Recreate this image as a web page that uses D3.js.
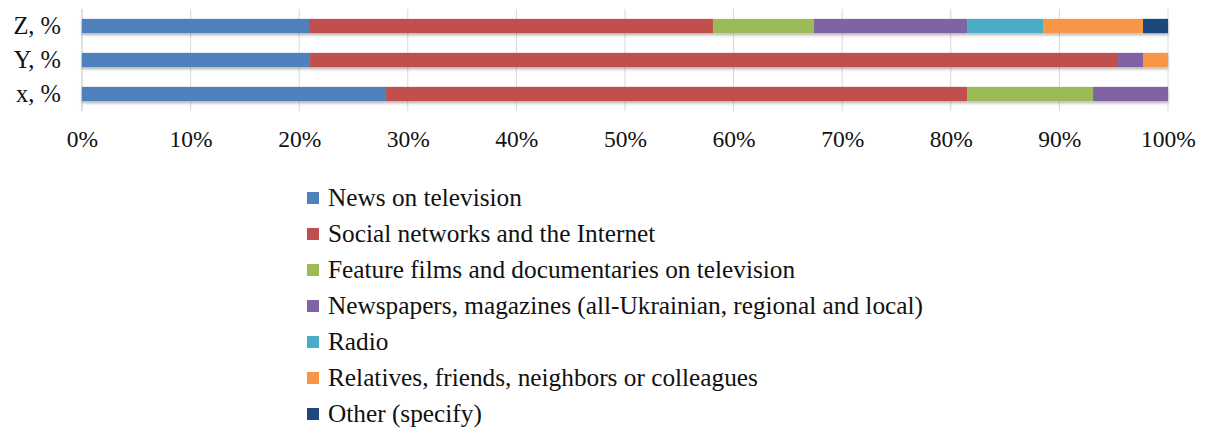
<!DOCTYPE html>
<html>
<head>
<meta charset="utf-8">
<script src="https://cdn.jsdelivr.net/npm/d3@7"></script>
<style>
  body { margin: 0; background: #fff; }
</style>
</head>
<body>
<div id="app"></div>
<script>
const width = 1209,
    height = 428;

const serif = "'Times New Roman', 'Liberation Serif', 'DejaVu Serif', serif";

// rows, top to bottom
const categories = ["Z, %", "Y, %", "x, %"];
const series = [
    "News on television",
    "Social networks and the Internet",
    "Feature films and documentaries on television",
    "Newspapers, magazines (all-Ukrainian, regional and local)",
    "Radio",
    "Relatives, friends, neighbors or colleagues",
    "Other (specify)"
];
// percentages per row, in series order
const valuesZ = [20.9, 37.2, 9.3, 14.1, 7.0, 9.2, 2.3];
const valuesY = [21.0, 74.4, 0, 2.3, 0, 2.3, 0];
const valuesX = [28.0, 53.5, 11.6, 6.9, 0, 0, 0];
const tickValues = [0, 10, 20, 30, 40, 50, 60, 70, 80, 90, 100];

const colors = ["#4F81BD", "#C0504D", "#9BBB59", "#8064A2", "#4BACC6", "#F79646", "#1F497D"];

const rows = [valuesZ, valuesY, valuesX].map((v, i) => {
    const total = d3.sum(v);
    let acc = 0;
    return {
        cat: categories[i],
        segs: v.map((d, j) => {
            const s = {key: series[j], x0: acc / total * 100, x1: (acc + d) / total * 100};
            acc += d;
            return s;
        }).filter(s => s.x1 > s.x0)
    };
});

const margin = {left: 82, right: 41, top: 9, plotBottom: 111};

const x = d3.scaleLinear().domain([0, 100]).range([margin.left, width - margin.right]);
const y = d3.scaleBand().domain(categories).range([margin.top, margin.plotBottom]).paddingInner(0.58).paddingOuter(0.29);

const svg = d3.select("#app")
    .append("svg")
    .attr("width", width)
    .attr("height", height)
    .style("font-family", serif);

const defs = svg.append("defs");
defs.append("filter").attr("id", "shadow")
    .attr("x", "-5%").attr("y", "-50%").attr("width", "110%").attr("height", "200%")
    .append("feDropShadow")
    .attr("dx", 0).attr("dy", 2).attr("stdDeviation", 1.5)
    .attr("flood-color", "#000").attr("flood-opacity", 0.3);

//gridlines
svg.append("g")
    .selectAll("line")
    .data(tickValues).enter()
    .append("line")
    .attr("x1", d => x(d)).attr("x2", d => x(d))
    .attr("y1", margin.top).attr("y2", margin.plotBottom)
    .attr("stroke", d => d === 0 ? "#bfbfbf" : "#d9d9d9")
    .attr("stroke-width", 1);

//bars
svg.append("g")
    .selectAll("g.row")
    .data(rows).enter()
    .append("g")
    .attr("filter", "url(#shadow)")
    .selectAll("rect")
    .data(d => d.segs.map(s => Object.assign({cat: d.cat}, s))).enter()
    .append("rect")
    .attr("x", d => x(d.x0))
    .attr("width", d => x(d.x1) - x(d.x0))
    .attr("y", d => y(d.cat))
    .attr("height", y.bandwidth())
    .attr("fill", d => colors[series.indexOf(d.key)]);

//X-Axis
const xAxis = svg.append("g")
    .attr("transform", "translate(0," + margin.plotBottom + ")")
    .call(d3.axisBottom(x).tickValues(tickValues).tickFormat(d => d + "%").tickSize(0).tickPadding(19))
    .attr("font-family", serif);
xAxis.select(".domain").remove();
xAxis.selectAll("text").style("font-family", serif).style("font-size", "23.5px").attr("fill", "#111");

//Y-Axis
const yAxis = svg.append("g")
    .attr("transform", "translate(" + (margin.left - 21) + ",0)")
    .call(d3.axisLeft(y).tickSize(0).tickPadding(0))
    .attr("font-family", serif);
yAxis.select(".domain").remove();
yAxis.selectAll("text").style("font-family", serif).style("font-size", "24.5px").attr("fill", "#111");

//Legend
const legend = svg.append("g")
    .selectAll("g")
    .data(series).enter()
    .append("g")
    .attr("transform", (d, i) => "translate(307," + (198 + i * 36) + ")");

legend.append("rect")
    .attr("x", 0).attr("y", -6)
    .attr("width", 12).attr("height", 12)
    .attr("fill", (d, i) => colors[i]);

legend.append("text")
    .attr("x", 21).attr("y", 8)
    .style("font-family", serif)
    .style("font-size", "25.3px")
    .attr("fill", "#111")
    .text(d => d);
</script>
</body>
</html>
